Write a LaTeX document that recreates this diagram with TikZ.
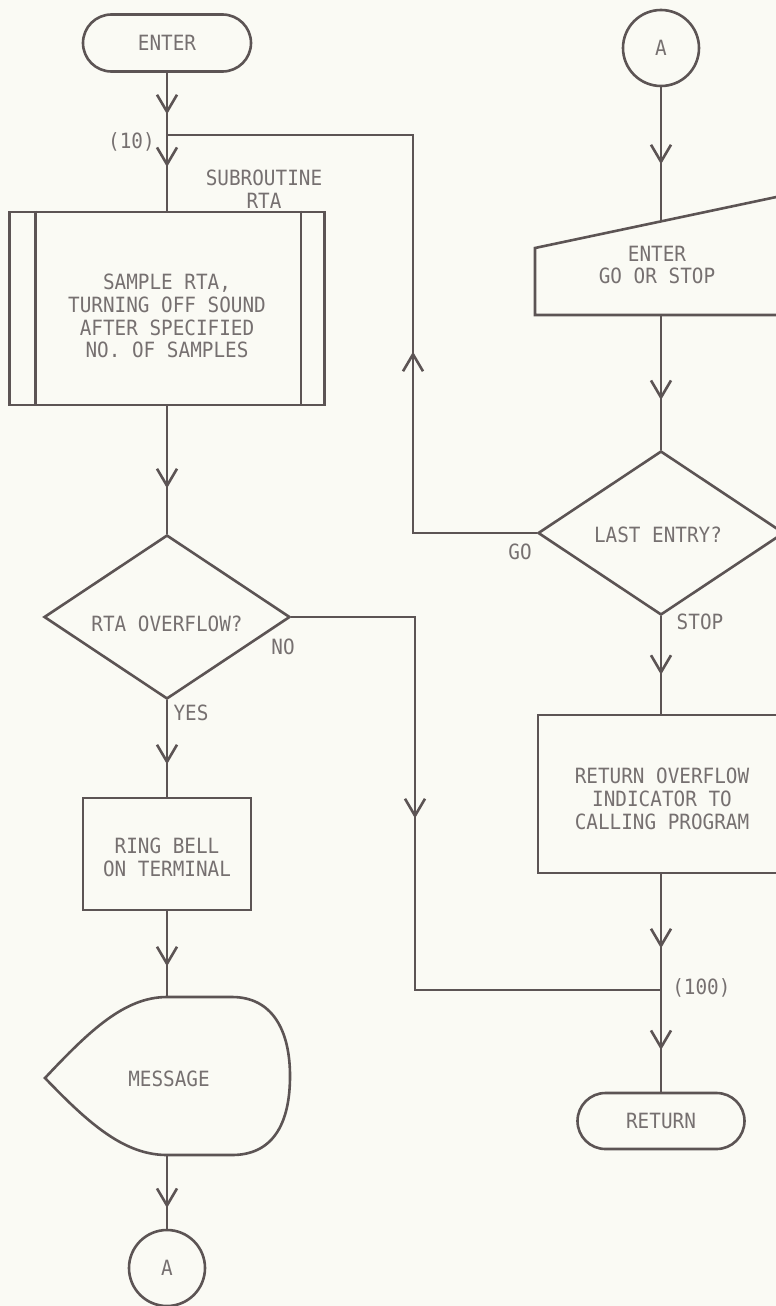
\documentclass[tikz,border=0pt]{standalone}
\usepackage{fontspec}
\newfontfamily\plotfont[FakeStretch=0.92]{DejaVu Sans Mono}
\usetikzlibrary{shapes.geometric,shapes.misc,arrows.meta,decorations.markings}
\definecolor{ln}{RGB}{92,84,84}
\definecolor{tx}{RGB}{118,112,112}
\definecolor{bg}{RGB}{250,250,244}
\begin{document}
\begin{tikzpicture}[x=1pt,y=-1pt,line width=2.6pt,draw=ln,
  txt/.style={text=tx,font=\plotfont\fontsize{21}{22.8}\selectfont,align=center,inner sep=0pt},
  terminal/.style={draw=ln,rounded rectangle,minimum width=168pt,minimum height=57pt,inner sep=0pt,txt},
  connector/.style={draw=ln,circle,minimum size=76pt,inner sep=0pt,txt},
  procbox/.style={draw=ln,rectangle,inner sep=0pt},
  decision/.style={draw=ln,diamond,aspect=1.5,minimum width=246pt,minimum height=164pt,inner sep=0pt},
  flowarr/.style={postaction={decorate,decoration={markings,mark=at position #1 with {\arrow[ln]{Straight Barb[length=17pt,width=20pt]}}}}},
  conn/.style={draw=ln}
]
\useasboundingbox (0,0) rectangle (776,1306);
\fill[bg] (0,0) rectangle (776,1306);
\clip (0,0) rectangle (776,1306);

% ---------- left column ----------
\node[terminal] (enter) at (167,43) {ENTER};
\coordinate (j10) at (167,135);
\node[txt,anchor=east] (l10) at (156,142) {(10)};
\node[txt] (lsub) at (264,189) {SUBROUTINE\\RTA};

\node[procbox,minimum width=315pt,minimum height=193pt] (sub) at (167,308.5) {};
\draw[conn] ([xshift=27pt]sub.north west) -- ([xshift=27pt]sub.south west);
\draw[conn] ([xshift=-25pt]sub.north east) -- ([xshift=-25pt]sub.south east);
\node[txt] (subtxt) at (167,316) {SAMPLE RTA,\\TURNING OFF SOUND\\AFTER SPECIFIED\\NO. OF SAMPLES};

\node[decision] (d1) at (167,617) {};
\node[txt] (d1txt) at (167,624) {RTA OVERFLOW?};
\node[txt] (lno) at (283,647) {NO};
\node[txt] (lyes) at (191,713) {YES};

\node[procbox,minimum width=168pt,minimum height=112pt] (bell) at (167,854) {};
\node[txt] (belltxt) at (167,857) {RING BELL\\ON TERMINAL};

\draw[conn] (45,1078) .. controls (90,1030) and (125,997) .. (167,997)
  -- (232,997) .. controls (272,997) and (290,1030) .. (290,1076)
  .. controls (290,1125) and (272,1155) .. (232,1155)
  -- (167,1155) .. controls (125,1155) and (90,1125) .. (45,1078) -- cycle;
\coordinate (msgtop) at (167,997);
\coordinate (msgbot) at (167,1155);
\node[txt] (msg) at (169,1079) {MESSAGE};

\node[connector] (a2) at (167,1268) {A};

% ---------- right column ----------
\node[connector] (a1) at (661,48) {A};
\draw[conn] (535,248) -- (800,192) -- (800,315) -- (535,315) -- cycle;
\coordinate (mantop) at (661,221.4);
\coordinate (manbot) at (661,315);
\node[txt] (mantxt) at (657,265) {ENTER\\GO OR STOP};

\node[decision] (d2) at (661,533) {};
\node[txt] (d2txt) at (658,535) {LAST ENTRY?};
\node[txt] (lgo) at (520,552) {GO};
\node[txt] (lstop) at (700,622) {STOP};

\node[procbox,minimum width=262pt,minimum height=158pt] (ret) at (669,794) {};
\node[txt] (rettxt) at (662,799) {RETURN OVERFLOW\\INDICATOR TO\\CALLING PROGRAM};

\coordinate (j100) at (661,990);
\node[txt,anchor=west] (l100) at (671,988) {(100)};
\node[terminal,minimum width=167pt,minimum height=56pt] (retn) at (661,1121) {RETURN};

% ---------- connectors ----------
\draw[conn,flowarr=41.5pt] (enter.south) -- (j10);
\draw[conn,flowarr=32pt] (j10) -- (sub.north);
\draw[conn,flowarr=82pt] (sub.south) -- (d1.north);
\draw[conn,flowarr=64pt] (d1.south) -- (bell.north);
\draw[conn,flowarr=55pt] (bell.south) -- (msgtop);
\draw[conn,flowarr=53pt] (msgbot) -- (a2.north);

\draw[conn,flowarr=77pt] (a1.south) -- (mantop);
\draw[conn,flowarr=85pt] (manbot) -- (d2.north);
\draw[conn,flowarr=58.5pt] (d2.south) -- (ret.north -| d2.south);
\draw[conn,flowarr=74pt] (ret.south -| j100) -- (j100);
\draw[conn,flowarr=60pt] (j100) -- (retn.north);

\draw[conn,flowarr=305pt] (d2.west) -- (413,533) -- (413,135) -- (j10);
\draw[conn,flowarr=325pt] (d1.east) -- (415,617) -- (415,990) -- (j100);
\end{tikzpicture}
\end{document}
